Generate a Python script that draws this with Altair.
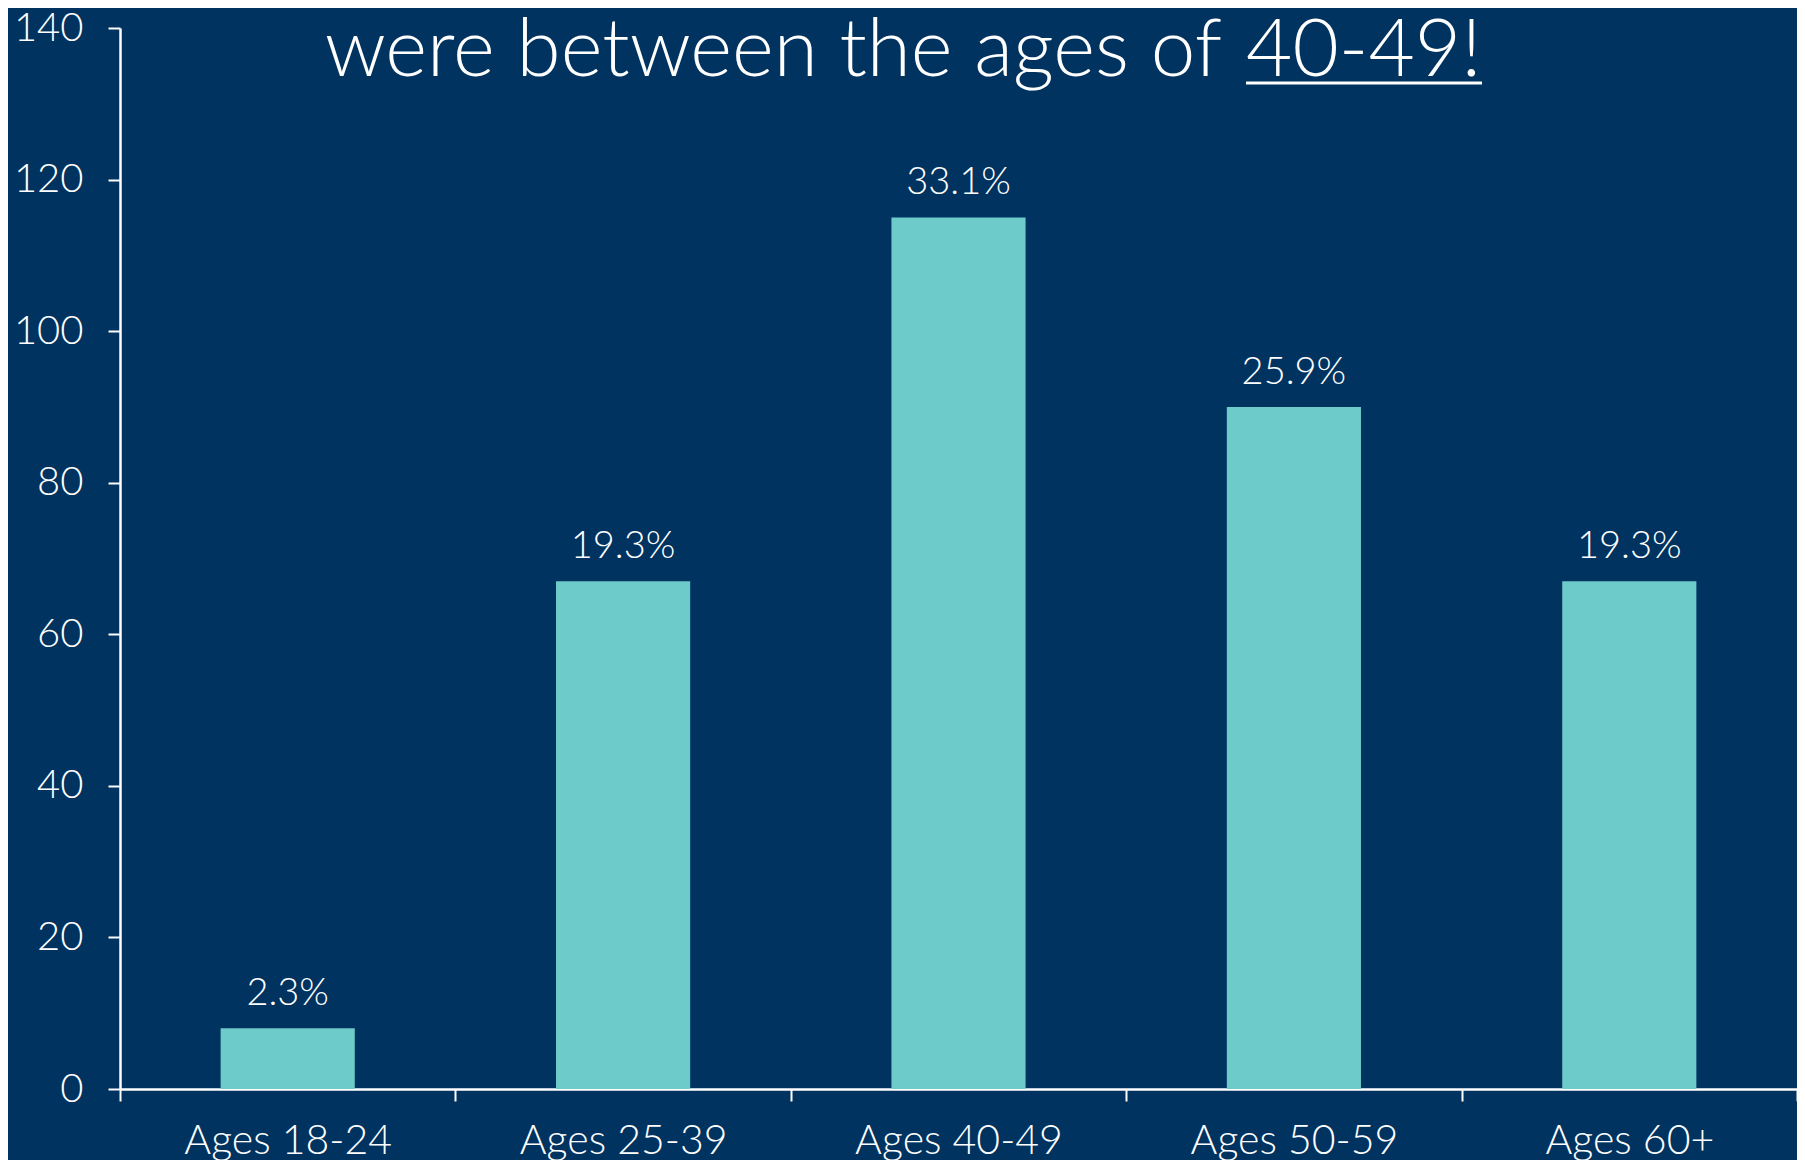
import altair as alt
import pandas as pd

# ---- data ----
categories = ["Ages 18-24", "Ages 25-39", "Ages 40-49", "Ages 50-59", "Ages 60+"]
counts = [8, 67, 115, 90, 67]
pct_labels = ["2.3%", "19.3%", "33.1%", "25.9%", "19.3%"]
y_ticks = [0, 20, 40, 60, 80, 100, 120, 140]
title_main = "were between the ages of"
title_emph = "40-49!"

BG = "#003360"
BAR = "#6DCBCA"
FONT = "Lato"

df = pd.DataFrame({"cat": categories, "n": counts, "lab": pct_labels})

x_enc = alt.X(
    "cat:N",
    sort=categories,
    title=None,
    scale=alt.Scale(paddingInner=0, paddingOuter=0),
    axis=alt.Axis(
        tickBand="extent",
        labelAngle=0,
        labelFontSize=41,
        labelFont=FONT,
        labelFontWeight=300,
        labelColor="white",
        labelPadding=20,
        labelLimit=0,
        tickSize=12,
        tickColor="white",
        tickWidth=2,
        domainColor="white",
        domainWidth=2.5,
    ),
)
y_enc = alt.Y(
    "n:Q",
    title=None,
    scale=alt.Scale(domain=[0, 140], nice=False),
    axis=alt.Axis(
        values=y_ticks,
        grid=False,
        labelFontSize=40,
        labelFont=FONT,
        labelFontWeight=300,
        labelColor="white",
        labelPadding=25,
        tickSize=12,
        tickColor="white",
        tickWidth=2,
        domainColor="white",
        domainWidth=2.5,
    ),
)

base = alt.Chart(df)
bars = base.mark_bar(color=BAR, width=alt.RelativeBandSize(0.4)).encode(x=x_enc, y=y_enc)
labels = base.mark_text(
    dy=-23, baseline="alphabetic", fontSize=38, font=FONT, fontWeight=300, color="white"
).encode(x=alt.X("cat:N", sort=categories), y="n:Q", text="lab:N")

tdf = pd.DataFrame({"a": [title_main], "b": [title_emph]})
t1 = alt.Chart(tdf).mark_text(
    align="right", baseline="alphabetic", fontSize=80, font=FONT, fontWeight=300, color="white"
).encode(x=alt.value(1102), y=alt.value(48), text="a:N")
t2 = alt.Chart(tdf).mark_text(
    align="left", baseline="alphabetic", fontSize=80, font=FONT, fontWeight=300, color="white"
).encode(x=alt.value(1126), y=alt.value(48), text="b:N")
uline = alt.Chart(tdf).mark_rule(color="white", strokeWidth=3).encode(
    x=alt.value(1126), x2=alt.value(1362), y=alt.value(55)
)

chart = (
    alt.layer(bars, labels, t1, t2, uline)
    .properties(
        width=1677,
        height=1061,
        background=BG,
        padding={"left": 112, "top": 20, "right": 0, "bottom": 71},
        autosize=alt.AutoSizeParams(type="none"),
    )
    .configure_view(stroke=None)
)

chart.save("out.html", embed_options={"renderer": "svg", "actions": False})
